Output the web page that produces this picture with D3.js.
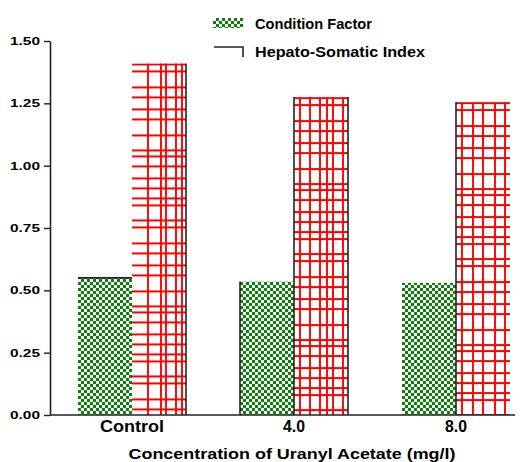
<!DOCTYPE html>
<html><head><meta charset="utf-8">
<script src="https://cdn.jsdelivr.net/npm/d3@7"></script>
<style>body{margin:0;background:#fff}svg{display:block}text{font-family:"Liberation Sans",Arial,sans-serif;font-weight:bold;fill:#000}</style>
</head><body><svg id="c" width="525" height="462"></svg>
<script>
const categories = ["Control", "4.0", "8.0"];
const seriesNames = ["Condition Factor", "Hepato-Somatic Index"];
const conditionFactor = [0.55, 0.535, 0.53];
const hepatoSomaticIndex = [1.41, 1.275, 1.255];
const yTicks = [0, 0.25, 0.5, 0.75, 1.0, 1.25, 1.5];
const yTickLabels = ["0.00", "0.25", "0.50", "0.75", "1.00", "1.25", "1.50"];
const xTitle = "Concentration of Uranyl Acetate (mg/l)";

// style-only settings
const gridV = [[16, 29, 34, 44, 50], [6, 16, 26, 33, 39, 49], [6, 17, 27, 39, 49]];
const gridH = [0, 7, 23, 33, 45, 55, 71, 86, 92, 102, 114, 124, 134, 141];
const gridPeriod = 156;
const edges = [[["top"], ["right"]], [["left"], ["left", "right"]], [[], ["left"]]];

const svg = d3.select("#c");
const defs = svg.append("defs");
const y = d3.scaleLinear().domain([0, 1.5]).range([415, 41]);
const x = d3.scaleBand().domain(categories).range([51, 537]).paddingInner(1/3).paddingOuter(1/6);
const xs = d3.scaleBand().domain(seriesNames).range([0, x.bandwidth()]);

// checker pattern
const chk = defs.append("pattern").attr("id", "chk").attr("patternUnits", "userSpaceOnUse")
  .attr("width", 6).attr("height", 6);
chk.append("rect").attr("width", 6).attr("height", 6).attr("fill", "#fff");
chk.append("rect").attr("width", 3).attr("height", 3).attr("fill", "#0a820a");
chk.append("rect").attr("x", 3).attr("y", 3).attr("width", 3).attr("height", 3).attr("fill", "#0a820a");

const data = categories.map((c, i) => ({cat: c, i, vals: [conditionFactor[i], hepatoSomaticIndex[i]]}));

// red grid patterns, one per HSI bar
data.forEach(d => {
  const bx = x(d.cat) + xs(seriesNames[1]);
  const by = y(d.vals[1]);
  const bw = xs.bandwidth();
  const p = defs.append("pattern").attr("id", "grid" + d.i).attr("patternUnits", "userSpaceOnUse")
    .attr("x", bx).attr("y", by).attr("width", bw).attr("height", gridPeriod);
  p.append("rect").attr("width", bw).attr("height", gridPeriod).attr("fill", "#fff");
  gridH.forEach(h => p.append("line").attr("x1", 0).attr("x2", bw).attr("y1", h + 1).attr("y2", h + 1)
    .attr("stroke", "#ff0000").attr("stroke-width", 1.9));
  gridV[d.i].forEach(v => p.append("line").attr("x1", v).attr("x2", v).attr("y1", 0).attr("y2", gridPeriod)
    .attr("stroke", "#ff0000").attr("stroke-width", 1.9));
});

// bars
const g = svg.append("g");
data.forEach(d => {
  seriesNames.forEach((s, si) => {
    const bx = x(d.cat) + xs(s), bw = xs.bandwidth();
    const by = y(d.vals[si]), bh = y(0) - y(d.vals[si]);
    g.append("rect").attr("x", bx).attr("y", by).attr("width", bw).attr("height", bh)
      .attr("fill", si === 0 ? "url(#chk)" : "url(#grid" + d.i + ")");
    edges[d.i][si].forEach(e => {
      const l = g.append("line").attr("stroke", "#222").attr("stroke-width", 1.6);
      if (e === "top") l.attr("x1", bx).attr("x2", bx + bw).attr("y1", by).attr("y2", by);
      if (e === "left") l.attr("x1", bx).attr("x2", bx).attr("y1", by).attr("y2", y(0));
      if (e === "right") l.attr("x1", bx + bw).attr("x2", bx + bw).attr("y1", by).attr("y2", y(0));
    });
  });
});

// y axis
const ya = svg.append("g").attr("transform", "translate(50,0)")
  .call(d3.axisLeft(y).tickValues(yTicks).tickFormat((d, i) => yTickLabels[i]).tickSize(6).tickSizeOuter(0));
ya.select(".domain").attr("stroke", "#222").attr("stroke-width", 1.6);
ya.selectAll(".tick line").attr("stroke", "#222").attr("stroke-width", 1.4);
ya.selectAll(".tick text").attr("x", -10).attr("font-size", 11)
  .attr("font-family", "Liberation Sans, Arial, sans-serif").attr("font-weight", "bold")
  .attr("textLength", 30).attr("lengthAdjust", "spacingAndGlyphs").attr("fill", "#000");

// x axis
const xa = svg.append("g").attr("transform", "translate(0,415)")
  .call(d3.axisBottom(x).tickSize(0));
xa.select(".domain").remove();
xa.append("line").attr("x1", 50).attr("x2", 515).attr("y1", 0).attr("y2", 0)
  .attr("stroke", "#222").attr("stroke-width", 1.6);
const catW = [64, 22, 22];
xa.selectAll(".tick text").attr("y", 6).attr("dy", "0.71em").attr("font-size", 16)
  .attr("font-family", "Liberation Sans, Arial, sans-serif").attr("font-weight", "bold").attr("fill", "#000")
  .attr("textLength", (d, i) => catW[i]).attr("lengthAdjust", "spacingAndGlyphs");

svg.append("text").attr("x", 292).attr("y", 459).attr("text-anchor", "middle").attr("font-size", 15)
  .attr("textLength", 327).attr("lengthAdjust", "spacingAndGlyphs").text(xTitle);

// legend
const lg = svg.append("g");
lg.append("rect").attr("x", 213).attr("y", 18).attr("width", 30).attr("height", 10).attr("fill", "url(#chk)");
lg.append("text").attr("x", 255).attr("y", 29).attr("font-size", 14)
  .attr("textLength", 117).attr("lengthAdjust", "spacingAndGlyphs").text(seriesNames[0]);
lg.append("path").attr("d", "M214,47H243V57").attr("fill", "none").attr("stroke", "#222").attr("stroke-width", 1.6);
lg.append("text").attr("x", 255).attr("y", 57).attr("font-size", 14)
  .attr("textLength", 170).attr("lengthAdjust", "spacingAndGlyphs").text(seriesNames[1]);
</script></body></html>
